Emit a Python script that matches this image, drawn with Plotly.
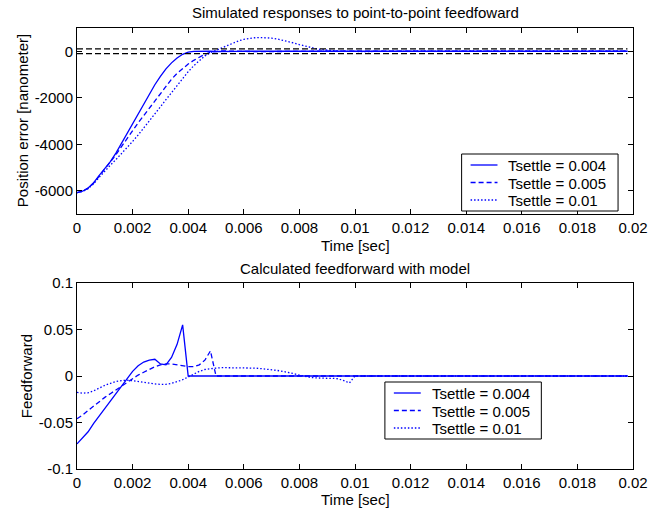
import numpy as np
import plotly.graph_objects as go

# ---------------- data ----------------
N_SAMPLES = 100
TIME = np.arange(N_SAMPLES) * 0.0002  # sample instants [sec], 0 .. 0.0198

TOLERANCE_NM = 100

LABELS = ["Tsettle = 0.004", "Tsettle = 0.005", "Tsettle = 0.01"]

# position error [nm]
ERR_004 = [-6080, -6020, -5880, -5650, -5340, -5050, -4750, -4380, -3960, -3530,
           -3100, -2680, -2250, -1850, -1440, -1080, -760, -500, -290, -130,
           -40, -5, 5, 5, 0, -10, -15, -15, -10, -5]
ERR_005 = [-6080, -6020, -5890, -5670, -5370, -5080, -4780, -4450, -4100, -3750,
           -3400, -3080, -2770, -2460, -2130, -1800, -1480, -1200, -950, -730,
           -550, -390, -250, -130, -40, 0, 10, 10, 0, -10,
           -20, -25, -25, -20, -15, -10, -5]
ERR_010 = [-6080, -6030, -5910, -5700, -5420, -5150, -4900, -4660, -4410, -4150,
           -3880, -3600, -3310, -3010, -2700, -2390, -2080, -1770, -1460, -1160,
           -880, -620, -390, -200, -60, 40, 150, 260, 360, 440,
           510, 555, 580, 590, 585, 565, 530, 480, 420, 355,
           285, 220, 160, 110, 70, 40, 20, 5, 0, -10,
           -20, -20, -15, -10, -5]

# feedforward
FF_004 = [-0.073, -0.067, -0.060, -0.051, -0.043, -0.034, -0.026, -0.018, -0.010, -0.002,
          0.005, 0.011, 0.015, 0.017, 0.018, 0.013, 0.012, 0.020, 0.034, 0.055,
          0.0]
FF_005 = [-0.046, -0.042, -0.037, -0.032, -0.027, -0.023, -0.019, -0.015, -0.011, -0.007,
          -0.003, 0.001, 0.004, 0.007, 0.010, 0.012, 0.013, 0.013, 0.012, 0.011,
          0.010, 0.010, 0.012, 0.017, 0.027, 0.0]
FF_010 = [-0.0175, -0.0185, -0.018, -0.016, -0.013, -0.010, -0.008, -0.006, -0.005, -0.0045,
          -0.005, -0.006, -0.007, -0.008, -0.0085, -0.009, -0.009, -0.008, -0.006, -0.004,
          -0.001, 0.002, 0.005, 0.007, 0.008, 0.0085, 0.009, 0.009, 0.009, 0.009,
          0.0088, 0.0087, 0.0085, 0.008, 0.0075, 0.0068, 0.006, 0.005, 0.004, 0.0025,
          0.001, -0.0005, -0.0015, -0.002, -0.0025, -0.0025, -0.0025, -0.003, -0.005, -0.0075,
          0.0]

X_TICKS = [0, 0.002, 0.004, 0.006, 0.008, 0.01, 0.012, 0.014, 0.016, 0.018, 0.02]
X_TICK_TEXT = ["0", "0.002", "0.004", "0.006", "0.008", "0.01", "0.012", "0.014", "0.016", "0.018", "0.02"]
Y1_TICKS = [-6000, -4000, -2000, 0]
Y1_TICK_TEXT = ["-6000", "-4000", "-2000", "0"]
Y2_TICKS = [-0.1, -0.05, 0, 0.05, 0.1]
Y2_TICK_TEXT = ["-0.1", "-0.05", "0", "0.05", "0.1"]


def settled(values, final=0.0):
    """Series is flat at its settled value after the last listed sample."""
    return list(values) + [final] * (N_SAMPLES - len(values))


# ---------------- figure ----------------
BLUE = "#0000ff"
FONT = "Liberation Sans, Arial, sans-serif"
FS = 15
DASHES = ["solid", "5px,3px", "1.5px,2px"]
LW = 1.3

fig = go.Figure()

for series, lab, dash in zip([ERR_004, ERR_005, ERR_010], LABELS, DASHES):
    fig.add_trace(go.Scatter(x=TIME, y=settled(series), mode="lines", name=lab,
                             line=dict(color=BLUE, width=LW, dash=dash),
                             xaxis="x", yaxis="y", showlegend=False))

for sign in (1, -1):
    fig.add_trace(go.Scatter(x=[TIME[0], TIME[-1]], y=[sign * TOLERANCE_NM] * 2, mode="lines",
                             line=dict(color="black", width=1.2, dash="6px,3px"),
                             showlegend=False, xaxis="x", yaxis="y"))

for series, lab, dash in zip([FF_004, FF_005, FF_010], LABELS, DASHES):
    fig.add_trace(go.Scatter(x=TIME, y=settled(series), mode="lines", name=lab,
                             line=dict(color=BLUE, width=LW, dash=dash),
                             xaxis="x2", yaxis="y2", showlegend=False))

axis_common = dict(showline=True, linecolor="black", linewidth=1, mirror="ticks",
                   ticks="inside", ticklen=5, tickcolor="black", showgrid=False,
                   zeroline=False, tickfont=dict(family=FONT, size=FS, color="black"))

# pixel geometry: plots span x 77..635; top plot y 28..214, bottom plot y 283..469
ML, MR, MT, MB = 77, 25, 28, 41
W, H = 660, 510
PH = H - MT - MB
PW = W - ML - MR


def py(pix):
    return (H - MB - pix) / PH


def px(pix):
    return (pix - ML) / PW


fig.update_layout(
    width=W, height=H,
    margin=dict(l=ML, r=MR, t=MT, b=MB),
    paper_bgcolor="white", plot_bgcolor="white",
    font=dict(family=FONT, size=FS, color="black"),
    xaxis=dict(domain=[0, 1], range=[0, 0.02], tickvals=X_TICKS, ticktext=X_TICK_TEXT,
               anchor="y", **axis_common),
    yaxis=dict(domain=[py(214), 1], range=[-7000, 1000], tickvals=Y1_TICKS,
               ticktext=Y1_TICK_TEXT, anchor="x", **axis_common),
    xaxis2=dict(domain=[0, 1], range=[0, 0.02], tickvals=X_TICKS, ticktext=X_TICK_TEXT,
                anchor="y2", **axis_common),
    yaxis2=dict(domain=[0, py(283)], range=[-0.1, 0.1], tickvals=Y2_TICKS,
                ticktext=Y2_TICK_TEXT, anchor="x2", **axis_common),
    showlegend=False,
)

annos = [
    dict(text="Simulated responses to point-to-point feedfoward", x=0.5, y=py(12)),
    dict(text="Time [sec]", x=0.5, y=py(245)),
    dict(text="Calculated feedforward with model", x=0.5, y=py(268)),
    dict(text="Time [sec]", x=0.5, y=py(499)),
    dict(text="Position error [nanometer]", x=px(22), y=py(121), textangle=-90),
    dict(text="Feedforward", x=px(26), y=py(376), textangle=-90),
]
for a in annos:
    fig.add_annotation(xref="paper", yref="paper", showarrow=False,
                       xanchor="center", yanchor="middle",
                       font=dict(family=FONT, size=FS, color="black"), **a)


# MATLAB-style boxed legends (box 157x57 px, three rows)
def draw_legend(x0, y0):
    fig.add_shape(type="rect", xref="paper", yref="paper",
                  x0=px(x0), x1=px(x0 + 157), y0=py(y0), y1=py(y0 + 57),
                  line=dict(color="black", width=1), fillcolor="white", layer="above")
    for i, (lab, dash) in enumerate(zip(LABELS, DASHES)):
        yr = y0 + 11 + i * 17.5
        fig.add_shape(type="line", xref="paper", yref="paper",
                      x0=px(x0 + 9), x1=px(x0 + 36), y0=py(yr), y1=py(yr),
                      line=dict(color=BLUE, width=LW, dash=dash), layer="above")
        fig.add_annotation(xref="paper", yref="paper", showarrow=False,
                           x=px(x0 + 45), y=py(yr + 0.5), xanchor="left", yanchor="middle",
                           text=lab, font=dict(family=FONT, size=FS, color="black"))


draw_legend(463, 154)
draw_legend(386, 382)

fig.write_html("out.html")
